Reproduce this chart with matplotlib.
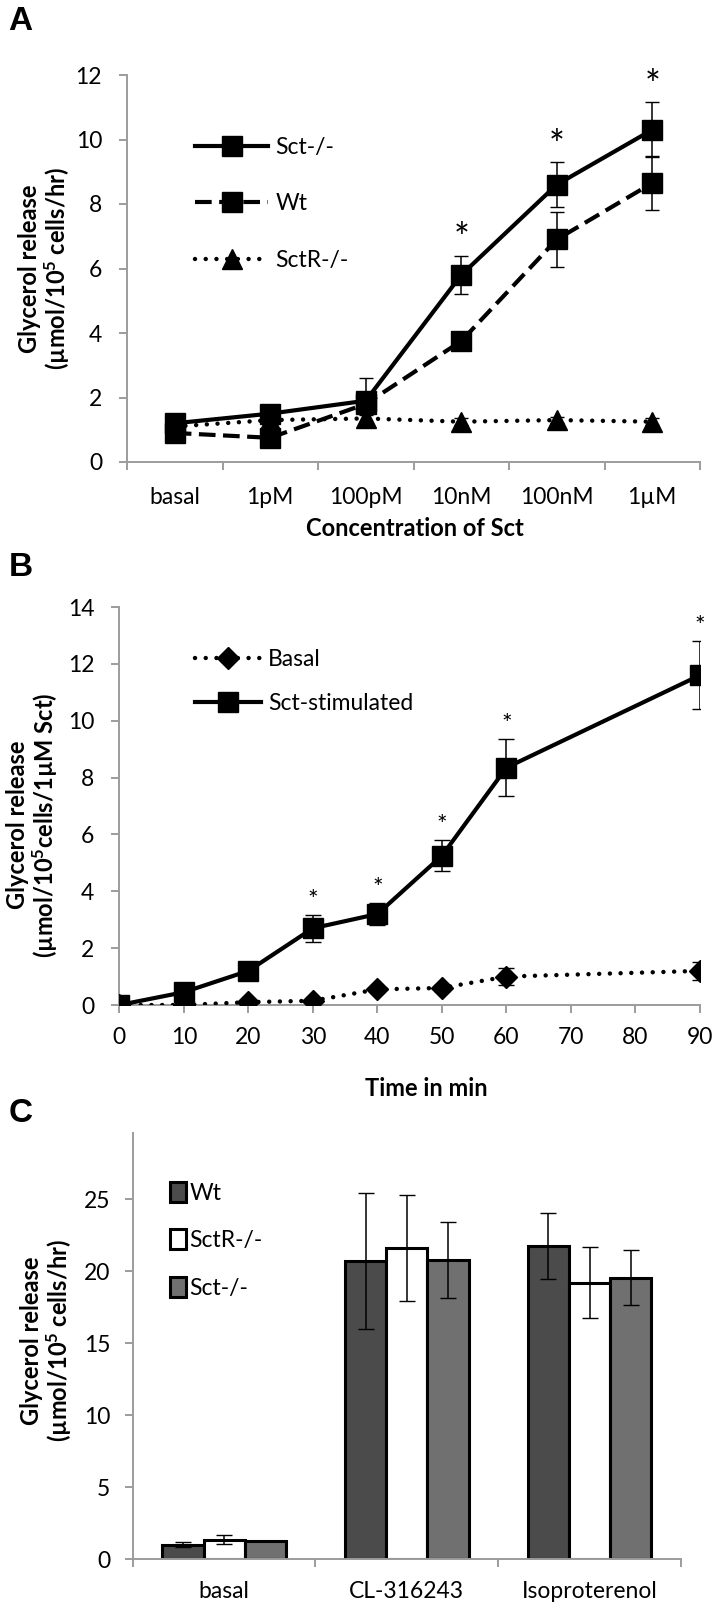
import matplotlib
matplotlib.use('Agg')
import matplotlib.pyplot as plt
import numpy as np
from matplotlib.patches import Patch

plt.rcParams['font.family'] = ['Lato', 'DejaVu Sans']
plt.rcParams['mathtext.fontset'] = 'custom'
plt.rcParams['mathtext.rm'] = 'Lato'
plt.rcParams['mathtext.bf'] = 'Lato:bold'
plt.rcParams['mathtext.default'] = 'bf'

# ---------------- Panel A data ----------------
conc_labels = ['basal', '1pM', '100pM', '10nM', '100nM', '1µM']
sct_ko_A = [1.2, 1.5, 1.9, 5.8, 8.6, 10.3]
sct_ko_A_err = [0.25, 0.2, 0.7, 0.6, 0.7, 0.85]
wt_A = [0.9, 0.75, 1.8, 3.75, 6.9, 8.65]
wt_A_err = [0.15, 0.2, 0.3, 0.2, 0.85, 0.85]
sctr_ko_A = [1.1, 1.3, 1.35, 1.25, 1.3, 1.25]
sctr_ko_A_err = [0.1, 0.1, 0.1, 0.1, 0.1, 0.1]
star_A_idx = [3, 4, 5]

# ---------------- Panel B data ----------------
time_min = [0, 10, 20, 30, 40, 50, 60, 90]
time_ticks = [0, 10, 20, 30, 40, 50, 60, 70, 80, 90]
basal_B = [0.0, 0.0, 0.1, 0.15, 0.55, 0.6, 1.0, 1.2]
basal_B_err = [0.05, 0.05, 0.05, 0.05, 0.1, 0.1, 0.3, 0.33]
stim_B = [0.0, 0.45, 1.2, 2.7, 3.2, 5.25, 8.35, 11.6]
stim_B_err = [0.05, 0.1, 0.1, 0.47, 0.4, 0.55, 1.0, 1.2]
star_B_times = [30, 40, 50, 60, 90]

# ---------------- Panel C data ----------------
treat_labels = ['basal', 'CL-316243', 'Isoproterenol']
wt_C = [1.0, 20.7, 21.75]
wt_C_err = [0.2, 4.7, 2.3]
sctr_C = [1.35, 21.6, 19.2]
sctr_C_err = [0.3, 3.7, 2.45]
sct_C = [1.25, 20.8, 19.55]
sct_C_err = [0.0, 2.65, 1.9]

W, H = 717, 1609
fig = plt.figure(figsize=(W / 100, H / 100), dpi=100)


def rect(l, r, t, b):
    return [l / W, 1 - b / H, (r - l) / W, (b - t) / H]


axis_color = '#9c9c9c'
TICK_FS = 16.5
LABEL_FS = 17


def style(ax):
    for s in ['top', 'right']:
        ax.spines[s].set_visible(False)
    for s in ['left', 'bottom']:
        ax.spines[s].set_color(axis_color)
        ax.spines[s].set_linewidth(1.4)
    ax.tick_params(axis='both', which='major', direction='out', length=6,
                   width=1.4, color=axis_color, labelsize=TICK_FS,
                   labelcolor='black')
    ax.tick_params(axis='x', which='minor', length=0, labelsize=TICK_FS)


dotted = (0, (0.01, 2.4))
dashed = (0, (4.0, 1.8))
lw = 3.0

# ================= Panel A =================
axA = fig.add_axes(rect(127, 700, 75, 462))
style(axA)
xA = np.arange(len(conc_labels)) + 0.5
lA_sctr, = axA.plot(xA, sctr_ko_A, color='black', lw=3.2, linestyle=dotted,
                    dash_capstyle='round', marker='^', ms=14, zorder=3)
axA.errorbar(xA, sctr_ko_A, yerr=sctr_ko_A_err, fmt='none', ecolor='black',
             elinewidth=1.1, capsize=5, zorder=2)
lA_wt, = axA.plot(xA, wt_A, color='black', lw=lw, linestyle=dashed,
                  marker='s', ms=15, zorder=4)
axA.errorbar(xA, wt_A, yerr=wt_A_err, fmt='none', ecolor='black',
             elinewidth=1.1, capsize=5, zorder=4)
lA_sct, = axA.plot(xA, sct_ko_A, color='black', lw=lw, linestyle='-',
                   marker='s', ms=15, zorder=5)
axA.errorbar(xA, sct_ko_A, yerr=sct_ko_A_err, fmt='none', ecolor='black',
             elinewidth=1.1, capsize=5, zorder=5)
for i in star_A_idx:
    axA.annotate('*', xy=(xA[i], sct_ko_A[i] + sct_ko_A_err[i]),
                 xytext=(0, -2), textcoords='offset points', ha='center',
                 va='bottom', fontsize=27)
axA.set_xlim(0, 6)
axA.set_ylim(0, 12)
axA.set_yticks(np.arange(0, 13, 2))
axA.set_xticks(np.arange(7))
axA.set_xticklabels([])
axA.set_xticks(xA, minor=True)
axA.set_xticklabels(conc_labels, minor=True)
axA.tick_params(axis='y', pad=12)
axA.tick_params(axis='x', which='minor', pad=18)
axA.legend(handles=[lA_sct, lA_wt, lA_sctr], labels=['Sct-/-', 'Wt', 'SctR-/-'],
           loc='upper left', bbox_to_anchor=((195 - 127) / 573, 0.84),
           frameon=False, fontsize=TICK_FS, handlelength=3.2,
           handletextpad=0.3, labelspacing=1.55, borderpad=0, borderaxespad=0)
fig.text(45 / W, 1 - 269 / H, 'Glycerol release\n(µmol/10$^{5}$ cells/hr)',
         rotation=90, ha='center', va='center', fontsize=LABEL_FS,
         fontweight='bold', linespacing=1.05)
fig.text(415 / W, 1 - 529 / H, 'Concentration of Sct', ha='center',
         va='center', fontsize=LABEL_FS, fontweight='bold')
fig.text(20 / W, 1 - 21 / H, 'A', ha='center', va='center', fontsize=24,
         fontweight='bold', family=['Liberation Sans', 'DejaVu Sans'])

# ================= Panel B =================
axB = fig.add_axes(rect(119.3, 700, 607, 1005))
style(axB)
lB_basal, = axB.plot(time_min, basal_B, color='black', lw=3.2, linestyle=dotted,
                     dash_capstyle='round', marker='D', ms=11, zorder=3)
axB.errorbar(time_min, basal_B, yerr=basal_B_err, fmt='none', ecolor='black',
             elinewidth=1.1, capsize=6, zorder=3)
lB_stim, = axB.plot(time_min, stim_B, color='black', lw=lw, linestyle='-',
                    marker='s', ms=15, zorder=4)
axB.errorbar(time_min, stim_B, yerr=stim_B_err, fmt='none', ecolor='black',
             elinewidth=1.1, capsize=6, zorder=4)
for t in star_B_times:
    i = time_min.index(t)
    axB.annotate('*', xy=(t, stim_B[i] + stim_B_err[i]), xytext=(0, 2),
                 textcoords='offset points', ha='center', va='bottom',
                 fontsize=18)
axB.set_xlim(0, 90)
axB.set_ylim(0, 14)
axB.set_xticks(time_ticks)
axB.set_yticks(np.arange(0, 15, 2))
axB.tick_params(axis='y', pad=12)
axB.tick_params(axis='x', pad=10)
axB.legend(handles=[lB_basal, lB_stim], labels=['Basal', 'Sct-stimulated'],
           loc='upper left', bbox_to_anchor=((195 - 119.3) / 580.7, 0.895),
           frameon=False, fontsize=TICK_FS, handlelength=2.9,
           handletextpad=0.3, labelspacing=1.0, borderpad=0, borderaxespad=0)
fig.text(33 / W, 1 - 825 / H, 'Glycerol release\n(µmol/10$^{5}$cells/1µM Sct)',
         rotation=90, ha='center', va='center', fontsize=LABEL_FS,
         fontweight='bold', linespacing=1.05)
fig.text(426 / W, 1 - 1089 / H, 'Time in min', ha='center', va='center',
         fontsize=LABEL_FS, fontweight='bold')
fig.text(21 / W, 1 - 567 / H, 'B', ha='center', va='center', fontsize=24,
         fontweight='bold', family=['Liberation Sans', 'DejaVu Sans'])

# ================= Panel C =================
axC = fig.add_axes(rect(132.7, 681, 1133, 1559))
style(axC)
xC = np.arange(len(treat_labels)) + 0.5
bw = 0.225
colors_C = ['#4b4b4b', '#ffffff', '#707070']
series_C = [(wt_C, wt_C_err, 'Wt'), (sctr_C, sctr_C_err, 'SctR-/-'),
            (sct_C, sct_C_err, 'Sct-/-')]
handlesC = []
for k, (vals, errs, name) in enumerate(series_C):
    xs = xC + (k - 1) * bw
    axC.bar(xs, vals, width=bw, color=colors_C[k], edgecolor='black',
            linewidth=2.2, zorder=2)
    axC.errorbar(xs, vals, yerr=errs, fmt='none', ecolor='black',
                 elinewidth=1.1, capsize=6, zorder=3)
    handlesC.append(Patch(facecolor=colors_C[k], edgecolor='black',
                          linewidth=2.2, label=name))
axC.set_xlim(0, 3)
axC.set_ylim(0, 29.6)
axC.set_yticks(np.arange(0, 26, 5))
axC.set_xticks(np.arange(4))
axC.set_xticklabels([])
axC.set_xticks(xC, minor=True)
axC.set_xticklabels(treat_labels, minor=True)
axC.tick_params(axis='y', pad=10)
axC.tick_params(axis='x', which='minor', pad=16)
axC.legend(handles=handlesC, loc='upper left',
           bbox_to_anchor=((170 - 132.7) / 548.3, 0.885), frameon=False,
           fontsize=TICK_FS, handlelength=0.7, handleheight=0.95,
           handletextpad=0.15, labelspacing=1.12, borderpad=0,
           borderaxespad=0)
fig.text(47 / W, 1 - 1341 / H, 'Glycerol release\n(µmol/10$^{5}$ cells/hr)',
         rotation=90, ha='center', va='center', fontsize=LABEL_FS,
         fontweight='bold', linespacing=1.05)
fig.text(21 / W, 1 - 1113 / H, 'C', ha='center', va='center', fontsize=24,
         fontweight='bold', family=['Liberation Sans', 'DejaVu Sans'])

fig.savefig('out.png', dpi=100)
